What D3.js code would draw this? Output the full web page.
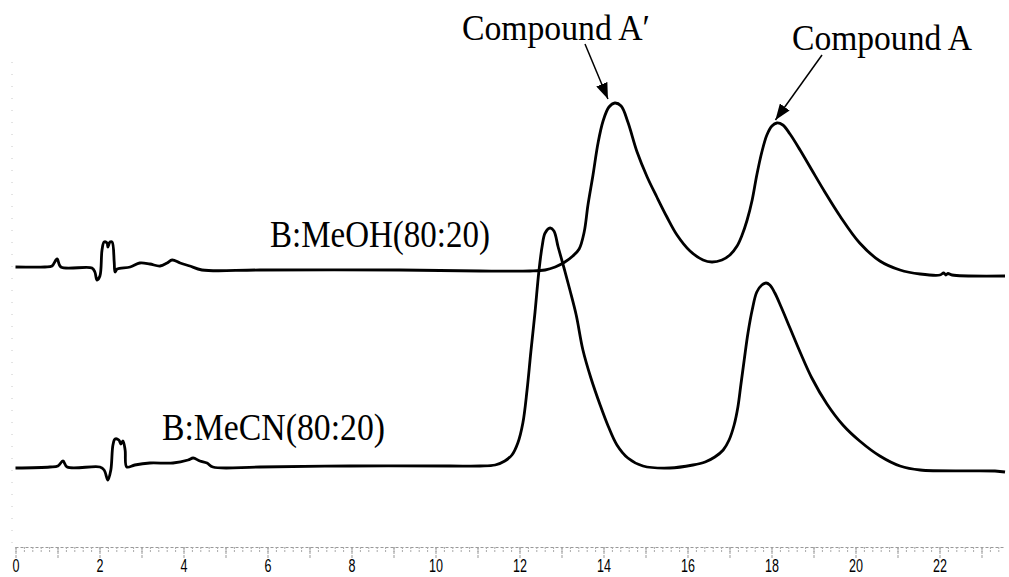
<!DOCTYPE html>
<html>
<head>
<meta charset="utf-8">
<script src="https://cdn.jsdelivr.net/npm/d3@7"></script>
<style>
  body { margin: 0; background: #fff; }
  svg { display: block; }
</style>
</head>
<body>
<svg width="1009" height="577"></svg>
<script>
'use strict';

// retention time (min) and detector response, B:MeOH(80:20) trace
const meohT = [0, 0.70, 0.87, 0.99, 1.08, 1.82, 1.89, 1.94, 2.01, 2.06, 2.11, 2.18, 2.20, 2.25, 2.30, 2.35, 2.37, 2.42,
  2.73, 2.96, 3.20, 3.44, 3.61, 3.73, 3.92, 4.15, 4.44, 5.82, 9.15, 11.06, 12.25, 12.61, 12.85, 13.08, 13.27,
  13.42, 13.54, 13.63, 13.75, 13.87, 13.99, 14.13, 14.27, 14.42, 14.58, 14.80, 15.04, 15.27, 15.51, 15.75,
  16.06, 16.37, 16.58, 16.82, 17.01, 17.18, 17.30, 17.42, 17.54, 17.65, 17.77, 17.89, 18.01, 18.13, 18.27,
  18.44, 18.68, 18.96, 19.27, 19.63, 20.10, 20.58, 21.06, 21.54, 22.01, 22.10, 22.15, 22.20, 22.30, 23.56];
const meohV = [56.2, 56.2, 56.4, 57.8, 56.2, 56.0, 55.2, 53.6, 54.4, 59.6, 61.2, 61.0, 60.2, 61.2, 61.2, 57.2, 55.2, 55.8,
  56.2, 57.0, 56.8, 56.4, 57.0, 57.6, 57.0, 56.4, 55.6, 55.6, 55.6, 55.4, 55.4, 55.6, 56.2, 57.2, 58.4,
  59.8, 63.2, 68.6, 74.6, 81.0, 85.4, 88.2, 89.0, 88.4, 85.2, 79.2, 74.2, 70.2, 66.2, 62.6,
  59.4, 57.6, 57.2, 57.6, 58.6, 60.4, 62.6, 65.6, 69.6, 74.6, 79.2, 82.6, 84.4, 85.0, 84.6,
  82.8, 79.6, 75.6, 71.2, 66.4, 61.0, 57.4, 55.6, 54.8, 54.6, 55.0, 54.6, 54.9, 54.6, 54.4];

// B:MeCN(80:20) trace
const mecnT = [0, 0.82, 1.01, 1.13, 1.23, 2.01, 2.11, 2.20, 2.27, 2.32, 2.37, 2.46, 2.51, 2.56, 2.61, 2.65, 2.84, 3.20,
  3.75, 4.11, 4.23, 4.39, 4.56, 4.70, 5.82, 7.96, 10.35, 11.06, 11.42, 11.65, 11.82, 11.96, 12.08, 12.18,
  12.27, 12.37, 12.46, 12.54, 12.61, 12.73, 12.82, 12.92, 13.06, 13.20, 13.35, 13.51, 13.70, 13.92, 14.11,
  14.32, 14.58, 14.94, 15.58, 16.13, 16.42, 16.65, 16.85, 16.99, 17.11, 17.20, 17.27, 17.35, 17.44, 17.54,
  17.65, 17.77, 17.87, 17.96, 18.08, 18.23, 18.44, 18.68, 18.96, 19.32, 19.70, 20.10, 20.58, 21.06, 21.54,
  23.32, 23.56];
const mecnV = [16.0, 16.2, 16.4, 17.4, 16.2, 16.2, 15.6, 13.6, 15.6, 20.6, 21.8, 21.6, 20.8, 21.4, 19.6, 16.2, 16.6, 17.0,
  17.0, 17.6, 18.0, 17.4, 17.0, 16.2, 16.2, 16.4, 16.4, 16.4, 16.6, 17.4, 18.6, 21.0, 25.0, 31.6,
  39.2, 47.2, 55.2, 60.4, 63.0, 64.0, 63.4, 60.2, 56.0, 51.6, 46.6, 39.6, 34.0, 28.6, 24.4,
  20.6, 18.0, 16.4, 16.0, 16.6, 17.2, 18.2, 19.6, 21.6, 24.6, 28.2, 32.6, 37.6, 43.0, 47.6,
  51.2, 52.6, 53.0, 52.6, 51.0, 48.2, 44.0, 39.2, 34.0, 28.8, 24.6, 21.4, 18.4, 16.4, 15.6,
  15.4, 15.2];

const minorTicks = d3.range(0, 118).map(i => i / 5);
const majorTicks = d3.range(0, 24);
const traceLabels = ["B:MeOH(80:20)", "B:MeCN(80:20)"];
const peakLabels = ["Compound A\u2032", "Compound A"];

const svg = d3.select("svg");
const width = parseFloat(svg.attr("width"));
const height = parseFloat(svg.attr("height"));

svg.append("rect")
    .attr("width", width)
    .attr("height", height)
    .attr("fill", "#fff");

const x = d3.scaleLinear().domain([0, 22]).range([15.5, 939.5]);
const y = d3.scaleLinear().domain([0, 100]).range([548, 48]);
const axisY = 547;

// faint dotted left edge from the scan
svg.append("line")
    .attr("x1", 12).attr("x2", 12)
    .attr("y1", 62).attr("y2", axisY)
    .attr("stroke", "#c8c8c8")
    .attr("stroke-width", 1)
    .attr("stroke-dasharray", "1,11");

// axis: minor ticks every 0.2, major every 1, labels on even numbers
const minorG = svg.append("g")
    .attr("transform", `translate(0,${axisY})`)
    .call(d3.axisBottom(x).tickValues(minorTicks).tickSize(5).tickSizeOuter(0).tickFormat(""));
minorG.select(".domain")
    .attr("d", `M${x(0)},0.5H1005`)
    .attr("stroke", "#999")
    .attr("stroke-dasharray", "3,2");
minorG.selectAll(".tick line")
    .attr("stroke", "#aaa")
    .attr("stroke-dasharray", "2,1");

const majorG = svg.append("g")
    .attr("transform", `translate(0,${axisY})`)
    .call(d3.axisBottom(x).tickValues(majorTicks).tickSize(11).tickSizeOuter(0)
        .tickFormat(d => d % 2 === 0 ? d : ""));
majorG.select(".domain").remove();
majorG.selectAll(".tick line")
    .attr("stroke", "#999")
    .attr("stroke-dasharray", "3,1");
majorG.selectAll(".tick text")
    .attr("y", 11.5)
    .attr("font-family", "Liberation Sans, Arial, sans-serif")
    .attr("font-size", 19)
    .attr("fill", "#000")
    .attr("transform", "scale(0.66,1)");

// traces
const line = d3.line()
    .x(d => x(d[0]))
    .y(d => y(d[1]))
    .curve(d3.curveCatmullRom.alpha(0.5));

const traces = [d3.zip(meohT, meohV), d3.zip(mecnT, mecnV)];

svg.selectAll("path.trace")
    .data(traces)
    .join("path")
    .attr("class", "trace")
    .attr("d", line)
    .attr("fill", "none")
    .attr("stroke", "#000")
    .attr("stroke-width", 2.8)
    .attr("stroke-linejoin", "round");

// trace labels
const serif = "Liberation Serif, Times New Roman, serif";
svg.append("text")
    .attr("x", 270).attr("y", 247)
    .attr("font-family", serif)
    .attr("font-size", 38)
    .attr("textLength", 220)
    .attr("lengthAdjust", "spacingAndGlyphs")
    .text(traceLabels[0]);
svg.append("text")
    .attr("x", 162).attr("y", 440)
    .attr("font-family", serif)
    .attr("font-size", 38)
    .attr("textLength", 223)
    .attr("lengthAdjust", "spacingAndGlyphs")
    .text(traceLabels[1]);

// peak labels with arrows
svg.append("defs").append("marker")
    .attr("id", "head")
    .attr("viewBox", "0 0 16 12")
    .attr("refX", 16).attr("refY", 6)
    .attr("markerWidth", 16).attr("markerHeight", 12)
    .attr("markerUnits", "userSpaceOnUse")
    .attr("orient", "auto")
  .append("path")
    .attr("d", "M0,0L16,6L0,12Z")
    .attr("fill", "#000");

svg.append("text")
    .attr("x", 462).attr("y", 40)
    .attr("font-family", serif)
    .attr("font-size", 35)
    .attr("textLength", 188)
    .attr("lengthAdjust", "spacingAndGlyphs")
    .text(peakLabels[0]);
svg.append("text")
    .attr("x", 792).attr("y", 50)
    .attr("font-family", serif)
    .attr("font-size", 35)
    .attr("textLength", 180)
    .attr("lengthAdjust", "spacingAndGlyphs")
    .text(peakLabels[1]);

const arrow = (x1, y1, x2, y2) => svg.append("line")
    .attr("x1", x1).attr("y1", y1)
    .attr("x2", x2).attr("y2", y2)
    .attr("stroke", "#000")
    .attr("stroke-width", 1.5)
    .attr("marker-end", "url(#head)");

// arrow tips sit just above each MeOH peak
arrow(585, 44, x(14.13) - 1, y(89.0) - 4);
arrow(822, 55, x(18.07) + 1, y(85.0) - 3);
</script>
</body>
</html>
